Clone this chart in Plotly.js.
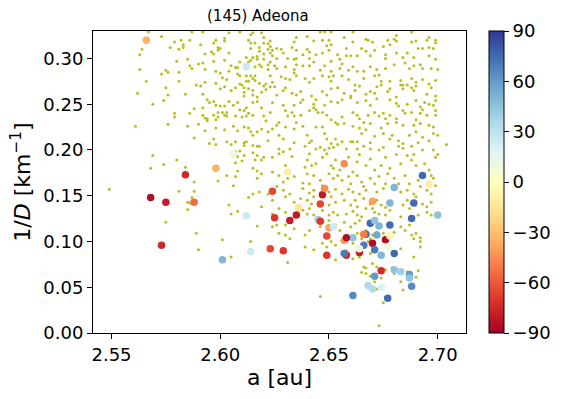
<!DOCTYPE html>
<html>
<head>
<meta charset="utf-8">
<script src="https://cdn.plot.ly/plotly-3.0.1.min.js"></script>
<style>
  html, body { margin: 0; padding: 0; background: #fff; }
  #plot { width: 565px; height: 399px; }
</style>
</head>
<body>
<div id="plot"></div>
<script>
// background family members: [a (au), 1/D (1/km)]
var bgPoints = [
  [2.567,0.329],[2.587,0.329],[2.592,0.329],[2.604,0.328],[2.609,0.329],[2.615,0.328],[2.619,0.328],
  [2.573,0.324],[2.579,0.318],[2.582,0.320],[2.586,0.320],[2.583,0.315],[2.591,0.315],[2.597,0.317],
  [2.598,0.320],[2.602,0.322],[2.602,0.319],[2.614,0.326],[2.620,0.323],[2.613,0.320],[2.614,0.317],
  [2.616,0.317],[2.620,0.317],[2.622,0.316],[2.564,0.310],[2.563,0.304],[2.577,0.312],[2.581,0.310],
  [2.583,0.312],[2.599,0.312],[2.599,0.309],[2.596,0.307],[2.593,0.305],[2.597,0.305],[2.600,0.311],
  [2.604,0.306],[2.614,0.311],[2.618,0.312],[2.618,0.308],[2.620,0.305],[2.622,0.310],[2.617,0.302],
  [2.617,0.299],[2.615,0.301],[2.614,0.298],[2.620,0.299],[2.612,0.301],[2.580,0.297],[2.585,0.299],
  [2.586,0.292],[2.590,0.294],[2.592,0.295],[2.597,0.297],[2.602,0.298],[2.605,0.292],[2.607,0.290],
  [2.608,0.290],[2.609,0.296],[2.613,0.296],[2.616,0.291],[2.618,0.293],[2.619,0.291],[2.622,0.293],
  [2.563,0.288],[2.573,0.283],[2.575,0.287],[2.576,0.285],[2.581,0.285],[2.587,0.289],[2.593,0.288],
  [2.598,0.286],[2.600,0.284],[2.604,0.286],[2.608,0.283],[2.609,0.281],[2.612,0.281],[2.614,0.281],
  [2.616,0.281],[2.615,0.278],[2.613,0.275],[2.612,0.275],[2.609,0.272],[2.611,0.268],[2.616,0.276],
  [2.618,0.273],[2.621,0.272],[2.622,0.288],[2.562,0.262],[2.566,0.275],[2.575,0.268],[2.576,0.260],
  [2.581,0.275],[2.584,0.261],[2.589,0.271],[2.591,0.270],[2.593,0.274],[2.592,0.261],[2.594,0.255],
  [2.598,0.273],[2.600,0.267],[2.602,0.269],[2.601,0.279],[2.603,0.277],[2.605,0.265],[2.607,0.268],
  [2.610,0.271],[2.611,0.263],[2.611,0.259],[2.613,0.267],[2.615,0.265],[2.615,0.260],[2.617,0.258],
  [2.619,0.263],[2.620,0.270],[2.621,0.266],[2.569,0.250],[2.574,0.254],[2.586,0.240],[2.588,0.245],
  [2.592,0.246],[2.595,0.252],[2.597,0.253],[2.598,0.249],[2.600,0.248],[2.602,0.248],[2.604,0.253],
  [2.599,0.241],[2.601,0.241],[2.603,0.241],[2.606,0.249],[2.608,0.252],[2.609,0.244],[2.611,0.243],
  [2.612,0.246],[2.615,0.252],[2.617,0.253],[2.619,0.246],[2.579,0.240],[2.579,0.236],[2.576,0.228],
  [2.585,0.226],[2.590,0.228],[2.592,0.238],[2.593,0.235],[2.594,0.232],[2.594,0.234],[2.597,0.238],
  [2.598,0.233],[2.599,0.236],[2.602,0.238],[2.603,0.237],[2.607,0.237],[2.610,0.236],[2.612,0.237],
  [2.613,0.240],[2.615,0.238],[2.620,0.237],[2.621,0.232],[2.561,0.226],[2.593,0.221],[2.598,0.224],
  [2.602,0.222],[2.606,0.226],[2.608,0.221],[2.611,0.225],[2.613,0.224],[2.614,0.220],[2.615,0.216],
  [2.617,0.220],[2.619,0.223],[2.622,0.220],[2.588,0.213],[2.597,0.212],[2.595,0.207],[2.598,0.206],
  [2.603,0.209],[2.605,0.206],[2.607,0.209],[2.611,0.208],[2.611,0.205],[2.612,0.209],[2.615,0.205],
  [2.617,0.204],[2.618,0.204],[2.622,0.210],
  [2.569,0.194],[2.568,0.180],[2.574,0.184],[2.580,0.189],[2.584,0.181],[2.588,0.165],[2.581,0.155],
  [2.588,0.155],[2.587,0.148],[2.585,0.143],[2.586,0.142],[2.585,0.135],[2.575,0.121],[2.589,0.109],
  [2.590,0.091],[2.549,0.157],[2.607,0.198],[2.608,0.193],[2.611,0.194],[2.609,0.199],[2.615,0.197],
  [2.617,0.194],[2.616,0.189],[2.619,0.189],[2.620,0.192],[2.607,0.186],[2.610,0.188],[2.608,0.177],
  [2.615,0.180],[2.617,0.177],[2.619,0.174],[2.603,0.172],[2.607,0.171],[2.617,0.169],[2.599,0.166],
  [2.606,0.161],[2.618,0.154],[2.615,0.152],[2.622,0.152],[2.613,0.148],[2.604,0.140],[2.605,0.130],
  [2.608,0.133],[2.619,0.138],[2.617,0.117],[2.601,0.102],[2.614,0.100],[2.605,0.083],
  [2.646,0.329],[2.648,0.329],[2.651,0.329],[2.661,0.329],[2.688,0.329],
  [2.623,0.319],[2.635,0.323],[2.640,0.324],[2.643,0.319],[2.647,0.320],[2.650,0.320],[2.651,0.315],
  [2.657,0.323],[2.661,0.318],[2.667,0.321],[2.668,0.320],[2.670,0.318],[2.677,0.320],[2.678,0.315],
  [2.680,0.321],[2.681,0.325],[2.681,0.319],[2.688,0.318],[2.690,0.319],[2.695,0.320],[2.696,0.323],
  [2.699,0.317],[2.699,0.320],[2.634,0.318],
  [2.623,0.313],[2.623,0.306],[2.624,0.309],[2.626,0.311],[2.628,0.310],[2.629,0.306],[2.624,0.303],
  [2.626,0.300],[2.631,0.300],[2.633,0.312],[2.635,0.309],[2.635,0.300],[2.638,0.304],[2.640,0.310],
  [2.641,0.307],[2.644,0.304],[2.647,0.306],[2.649,0.314],[2.650,0.309],[2.654,0.304],[2.658,0.311],
  [2.660,0.303],[2.655,0.299],[2.663,0.303],[2.665,0.311],[2.667,0.308],[2.669,0.303],[2.671,0.309],
  [2.675,0.313],[2.676,0.304],[2.676,0.300],[2.681,0.306],[2.684,0.301],[2.686,0.306],[2.689,0.301],
  [2.691,0.311],[2.693,0.311],[2.696,0.312],[2.698,0.311],[2.699,0.299],[2.696,0.303],[2.623,0.296],
  [2.634,0.299],[2.641,0.300],[2.643,0.296],[2.651,0.297],[2.656,0.294],[2.658,0.303],
  [2.625,0.292],[2.626,0.289],[2.630,0.291],[2.634,0.288],[2.635,0.293],[2.638,0.292],[2.641,0.292],
  [2.646,0.287],[2.648,0.292],[2.651,0.286],[2.652,0.281],[2.655,0.289],[2.656,0.281],[2.659,0.287],
  [2.661,0.291],[2.663,0.286],[2.666,0.286],[2.669,0.291],[2.672,0.288],[2.673,0.282],[2.676,0.289],
  [2.680,0.293],[2.685,0.295],[2.687,0.289],[2.689,0.292],[2.692,0.293],[2.693,0.289],[2.697,0.289],
  [2.700,0.288],[2.623,0.281],[2.624,0.274],[2.628,0.280],[2.630,0.278],[2.632,0.277],[2.634,0.284],
  [2.635,0.281],[2.639,0.278],[2.641,0.274],[2.643,0.278],[2.647,0.281],[2.650,0.280],[2.651,0.275],
  [2.659,0.277],[2.662,0.271],[2.666,0.278],[2.671,0.281],[2.674,0.275],[2.678,0.275],[2.683,0.276],
  [2.684,0.271],[2.686,0.271],[2.688,0.278],[2.690,0.274],[2.693,0.277],[2.696,0.272],[2.699,0.276],
  [2.623,0.269],[2.625,0.269],[2.626,0.260],[2.629,0.265],[2.630,0.268],[2.633,0.262],[2.635,0.260],
  [2.637,0.264],[2.638,0.255],[2.642,0.259],[2.644,0.255],[2.643,0.250],[2.647,0.264],[2.649,0.260],
  [2.651,0.267],[2.654,0.268],[2.657,0.262],[2.660,0.259],[2.662,0.265],[2.664,0.270],[2.667,0.261],
  [2.669,0.264],[2.671,0.262],[2.672,0.269],[2.674,0.271],[2.677,0.264],[2.678,0.267],[2.681,0.258],
  [2.683,0.271],[2.684,0.267],[2.688,0.268],[2.689,0.265],[2.690,0.270],[2.695,0.261],[2.697,0.268],
  [2.699,0.259],[2.699,0.254],[2.624,0.252],[2.629,0.249],[2.634,0.249],[2.637,0.252],[2.648,0.249],
  [2.651,0.253],[2.654,0.252],[2.656,0.255],[2.660,0.257],[2.663,0.252],[2.667,0.254],[2.669,0.249],
  [2.672,0.256],[2.678,0.255],[2.681,0.251],[2.682,0.248],[2.686,0.250],[2.690,0.254],[2.692,0.247],
  [2.694,0.252],[2.696,0.250],[2.698,0.249],
  [2.623,0.241],[2.626,0.227],[2.627,0.230],[2.630,0.243],[2.631,0.237],[2.633,0.241],[2.634,0.237],
  [2.635,0.230],[2.637,0.238],[2.638,0.226],[2.641,0.243],[2.643,0.246],[2.644,0.244],[2.645,0.241],
  [2.647,0.241],[2.649,0.238],[2.651,0.233],[2.653,0.230],[2.654,0.228],[2.656,0.236],[2.657,0.229],
  [2.661,0.241],[2.663,0.238],[2.664,0.234],[2.666,0.230],[2.668,0.238],[2.669,0.229],[2.671,0.241],
  [2.673,0.237],[2.675,0.240],[2.676,0.234],[2.678,0.238],[2.681,0.230],[2.681,0.234],[2.684,0.243],
  [2.685,0.240],[2.688,0.241],[2.690,0.233],[2.692,0.240],[2.693,0.244],[2.695,0.238],[2.699,0.238],
  [2.699,0.243],[2.624,0.223],[2.630,0.225],[2.634,0.223],[2.644,0.225],[2.647,0.225],[2.661,0.226],
  [2.664,0.224],[2.667,0.222],[2.674,0.224],[2.677,0.229],[2.684,0.227],[2.689,0.227],[2.692,0.229],
  [2.696,0.227],[2.698,0.225],
  [2.627,0.216],[2.629,0.212],[2.634,0.208],[2.640,0.216],[2.641,0.208],[2.642,0.210],[2.648,0.218],
  [2.649,0.212],[2.651,0.207],[2.653,0.212],[2.656,0.209],[2.660,0.209],[2.661,0.209],[2.663,0.209],
  [2.665,0.218],[2.669,0.208],[2.671,0.215],[2.675,0.218],[2.678,0.212],[2.679,0.216],[2.682,0.210],
  [2.684,0.207],[2.687,0.216],[2.690,0.220],[2.693,0.214],[2.696,0.210],[2.698,0.218],[2.700,0.216],
  [2.704,0.206],[2.627,0.201],[2.632,0.201],[2.639,0.204],[2.644,0.201],[2.646,0.203],[2.648,0.200],
  [2.650,0.202],[2.652,0.203],[2.654,0.206],[2.658,0.201],[2.663,0.201],[2.666,0.204],[2.669,0.201],
  [2.673,0.200],[2.675,0.203],[2.682,0.204],[2.684,0.202],[2.688,0.204],[2.691,0.208],[2.693,0.200],
  [2.698,0.200],
  [2.624,0.192],[2.627,0.196],[2.629,0.198],[2.630,0.183],[2.633,0.193],[2.640,0.189],[2.639,0.181],
  [2.642,0.183],[2.641,0.196],[2.644,0.185],[2.647,0.192],[2.649,0.196],[2.651,0.183],[2.653,0.189],
  [2.655,0.178],[2.652,0.180],[2.659,0.192],[2.661,0.176],[2.663,0.187],[2.664,0.195],[2.667,0.183],
  [2.669,0.190],[2.671,0.178],[2.674,0.183],[2.676,0.192],[2.678,0.180],[2.681,0.195],[2.683,0.185],
  [2.686,0.194],[2.688,0.189],[2.689,0.195],[2.690,0.183],[2.694,0.185],[2.696,0.178],[2.699,0.192],
  [2.700,0.195],[2.697,0.172],
  [2.624,0.176],[2.627,0.172],[2.629,0.165],[2.631,0.169],[2.634,0.171],[2.638,0.164],[2.640,0.174],
  [2.641,0.163],[2.643,0.172],[2.646,0.167],[2.647,0.161],[2.650,0.174],[2.652,0.169],[2.654,0.172],
  [2.656,0.167],[2.659,0.171],[2.660,0.163],[2.663,0.172],[2.665,0.165],[2.666,0.160],[2.669,0.169],
  [2.671,0.163],[2.673,0.171],[2.676,0.163],[2.677,0.174],[2.680,0.169],[2.682,0.163],[2.685,0.172],
  [2.687,0.163],[2.691,0.167],[2.692,0.160],[2.695,0.156],[2.698,0.169],[2.699,0.161],[2.629,0.156],
  [2.632,0.152],[2.638,0.158],[2.641,0.153],[2.643,0.156],[2.650,0.154],[2.653,0.157],[2.656,0.152],
  [2.659,0.157],[2.661,0.154],[2.664,0.152],[2.667,0.156],[2.672,0.154],[2.675,0.158],[2.683,0.154],
  [2.686,0.156],[2.689,0.152],[2.697,0.152],[2.626,0.160],
  [2.624,0.145],[2.630,0.149],[2.634,0.143],[2.637,0.147],[2.640,0.145],[2.642,0.141],[2.643,0.149],
  [2.650,0.140],[2.651,0.149],[2.653,0.143],[2.657,0.145],[2.660,0.140],[2.662,0.145],[2.663,0.138],
  [2.666,0.147],[2.667,0.136],[2.669,0.141],[2.672,0.145],[2.674,0.140],[2.676,0.137],[2.671,0.132],
  [2.673,0.130],[2.676,0.129],[2.678,0.134],[2.684,0.140],[2.686,0.145],[2.687,0.136],[2.690,0.149],
  [2.693,0.141],[2.695,0.138],[2.697,0.143],[2.695,0.132],[2.638,0.134],[2.640,0.130],[2.641,0.136],
  [2.643,0.129],[2.647,0.134],[2.650,0.129],[2.652,0.132],[2.654,0.129],[2.658,0.130],[2.661,0.133],
  [2.663,0.129],[2.665,0.127],[2.624,0.130],[2.627,0.136],[2.630,0.132],[2.634,0.127],[2.683,0.127],
  [2.691,0.129],[2.697,0.129],[2.670,0.136],
  [2.630,0.118],[2.634,0.114],[2.641,0.112],[2.646,0.116],[2.647,0.121],[2.650,0.123],[2.653,0.118],
  [2.655,0.112],[2.657,0.121],[2.660,0.116],[2.662,0.120],[2.664,0.123],[2.667,0.112],[2.663,0.109],
  [2.665,0.103],[2.670,0.107],[2.672,0.110],[2.675,0.109],[2.680,0.110],[2.683,0.116],[2.685,0.112],
  [2.687,0.118],[2.688,0.107],[2.690,0.109],[2.692,0.104],[2.692,0.100],[2.689,0.103],[2.630,0.107],
  [2.632,0.103],[2.639,0.094],[2.643,0.091],[2.647,0.098],[2.649,0.094],[2.651,0.100],[2.653,0.096],
  [2.656,0.101],[2.661,0.098],[2.663,0.094],[2.668,0.100],[2.669,0.103],[2.677,0.094],[2.683,0.092],
  [2.689,0.083],[2.692,0.094],[2.624,0.116],[2.626,0.118],[2.627,0.109],
  [2.631,0.077],[2.653,0.080],[2.659,0.087],[2.664,0.083],[2.666,0.072],[2.667,0.071],[2.667,0.065],
  [2.669,0.062],[2.665,0.066],[2.671,0.056],[2.672,0.072],[2.676,0.069],[2.679,0.071],[2.680,0.065],
  [2.683,0.056],[2.686,0.067],[2.690,0.061],[2.691,0.068],[2.672,0.048],[2.675,0.033],[2.676,0.039],
  [2.673,0.008],[2.646,0.040],[2.684,0.047],[2.674,0.060],[2.670,0.076],[2.669,0.087],[2.661,0.081],
  [2.639,0.107],[2.658,0.090]
];

// members with a measured value: [a (au), 1/D (1/km), value]
var colPoints = [
  [2.566,0.320,-35],[2.612,0.291,25],[2.606,0.195,10],[2.598,0.180,-35],[2.584,0.173,-75],
  [2.568,0.148,-85],[2.575,0.143,-80],[2.588,0.143,-55],[2.573,0.096,-75],[2.601,0.080,50],
  [2.612,0.128,25],[2.614,0.089,25],[2.624,0.155,-65],[2.625,0.126,-70],[2.623,0.092,-65],
  [2.631,0.176,-10],[2.647,0.151,-80],[2.648,0.158,-45],[2.646,0.141,-65],[2.636,0.137,-15],
  [2.635,0.129,-80],[2.632,0.123,-80],[2.645,0.124,40],[2.646,0.122,-70],[2.650,0.115,-40],
  [2.649,0.106,-65],[2.629,0.090,-70],[2.657,0.185,-45],[2.693,0.172,75],[2.696,0.163,-10],
  [2.680,0.159,50],[2.670,0.144,-40],[2.678,0.142,50],[2.689,0.142,75],[2.700,0.129,45],
  [2.688,0.125,75],[2.669,0.120,75],[2.671,0.123,45],[2.673,0.117,50],[2.678,0.118,75],
  [2.652,0.116,25],[2.649,0.085,-70],[2.667,0.108,75],[2.672,0.107,55],[2.666,0.108,-50],
  [2.657,0.101,-40],[2.661,0.104,45],[2.658,0.104,-85],[2.670,0.098,-85],[2.676,0.102,-85],
  [2.678,0.106,-5],[2.677,0.094,10],[2.666,0.096,70],[2.671,0.091,70],[2.680,0.087,75],
  [2.658,0.085,-75],[2.657,0.087,70],[2.664,0.088,-80],[2.664,0.092,10],[2.674,0.085,50],
  [2.674,0.068,-75],[2.680,0.069,45],[2.683,0.067,40],[2.687,0.064,60],[2.687,0.060,45],
  [2.671,0.062,60],[2.668,0.052,35],[2.670,0.048,35],[2.674,0.050,20],[2.688,0.051,65],
  [2.661,0.041,65],[2.677,0.038,75]
];

var xTicks = [2.55, 2.60, 2.65, 2.70];
var yTicks = [0.00, 0.05, 0.10, 0.15, 0.20, 0.25, 0.30];
var cbTicks = [-90, -60, -30, 0, 30, 60, 90];

// matplotlib RdYlBu
var rdylbu = [
  [0.0,'#a50026'],[0.1,'#d73027'],[0.2,'#f46d43'],[0.3,'#fdae61'],[0.4,'#fee090'],
  [0.5,'#ffffbf'],[0.6,'#e0f3f8'],[0.7,'#abd9e9'],[0.8,'#74add1'],[0.9,'#4575b4'],[1.0,'#313695']
];

var bgTrace = {
  x: bgPoints.map(function (p) { return p[0]; }),
  y: bgPoints.map(function (p) { return p[1]; }),
  type: 'scatter',
  mode: 'markers',
  marker: { color: '#bcbd22', size: 3 },
  hoverinfo: 'skip',
  showlegend: false
};

var colTrace = {
  x: colPoints.map(function (p) { return p[0]; }),
  y: colPoints.map(function (p) { return p[1]; }),
  type: 'scatter',
  mode: 'markers',
  marker: {
    color: colPoints.map(function (p) { return p[2]; }),
    colorscale: rdylbu,
    cmin: -90,
    cmax: 90,
    size: 7.5,
    line: { width: 0 },
    colorbar: {
      x: 1.062, xanchor: 'left', xpad: 0,
      y: 0.5, yanchor: 'middle', ypad: 0,
      len: 302, lenmode: 'pixels',
      thickness: 15,
      outlinewidth: 1, outlinecolor: '#000',
      tickvals: cbTicks,
      ticks: 'outside', ticklen: 5, tickwidth: 1, tickcolor: '#000',
      tickfont: { size: 18, color: '#000' }
    }
  },
  showlegend: false
};

var axisCommon = {
  showgrid: false,
  zeroline: false,
  showline: true,
  mirror: true,
  linecolor: '#000',
  linewidth: 1,
  ticks: 'outside',
  ticklen: 5,
  tickwidth: 1,
  tickcolor: '#000',
  tickfont: { size: 18, color: '#000' },
  tickformat: '.2f'
};

var layout = {
  width: 565,
  height: 399,
  margin: { l: 93, r: 99, t: 31, b: 66 },
  paper_bgcolor: '#fff',
  plot_bgcolor: '#fff',
  font: { family: 'DejaVu Sans', color: '#000' },
  title: {
    text: '(145) Adeona',
    font: { size: 15, color: '#000' },
    xref: 'paper', x: 0.442, xanchor: 'center',
    yref: 'paper', y: 1.045, yanchor: 'middle'
  },
  xaxis: Object.assign({}, axisCommon, {
    range: [2.5415, 2.713],
    tickvals: xTicks,
    title: { text: 'a [au]', font: { size: 22 }, standoff: 4 }
  }),
  yaxis: Object.assign({}, axisCommon, {
    range: [0, 0.33],
    tickvals: yTicks,
    title: { text: '1/<i>D</i> [km<sup>−1</sup>]', font: { size: 22 }, standoff: 6 }
  })
};

Plotly.newPlot('plot', [bgTrace, colTrace], layout, { displayModeBar: false, staticPlot: true });
</script>
</body>
</html>
